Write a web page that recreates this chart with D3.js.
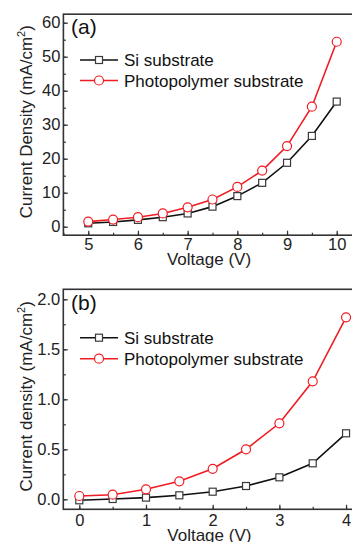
<!DOCTYPE html>
<html><head><meta charset="utf-8">
<script src="https://cdn.jsdelivr.net/npm/d3@7"></script>
<style>
html,body{margin:0;padding:0;background:#fff;overflow:hidden;}
svg{display:block;font-family:Arial,"Liberation Sans",Helvetica,sans-serif;}
</style></head>
<body>
<svg id="chart" width="352" height="542"></svg>
<script>
// ---- data ----
const voltageA = [5, 5.5, 6, 6.5, 7, 7.5, 8, 8.5, 9, 9.5, 10];
const siA      = [1.0, 1.4, 2.0, 2.8, 3.9, 5.9, 9.0, 12.9, 18.8, 26.7, 36.8];
const photoA   = [1.5, 2.1, 2.8, 3.9, 5.7, 8.0, 11.7, 16.5, 23.7, 35.3, 54.4];
const xTicksA  = [5, 6, 7, 8, 9, 10];
const yTicksA  = [0, 10, 20, 30, 40, 50, 60];

const voltageB = [0, 0.5, 1, 1.5, 2, 2.5, 3, 3.5, 4];
const siB      = [-0.01, 0.003, 0.017, 0.04, 0.076, 0.133, 0.22, 0.36, 0.66];
const photoB   = [0.033, 0.046, 0.10, 0.18, 0.305, 0.50, 0.76, 1.18, 1.82];
const xTicksB  = [0, 1, 2, 3, 4];
const yTicksB  = [0, 0.5, 1.0, 1.5, 2.0];

const seriesNames = ["Si substrate", "Photopolymer substrate"];

const svg = d3.select("#chart");
const FRAME = "#333";
const BLACK = "#111";
const RED = "#f01c24";

function panel(cfg) {
  const g = svg.append("g");
  const x = d3.scaleLinear().domain(cfg.xDomain).range([cfg.left, cfg.right]);
  const y = d3.scaleLinear().domain(cfg.yDomain).range([cfg.bottom, cfg.top]);

  const xMinor = d3.range(Math.ceil(cfg.xDomain[0] / cfg.xMinorStep) * cfg.xMinorStep, cfg.xDomain[1] + 1e-9, cfg.xMinorStep);
  const yMinor = d3.range(Math.ceil(cfg.yDomain[0] / cfg.yMinorStep) * cfg.yMinorStep, cfg.yDomain[1] + 1e-9, cfg.yMinorStep);

  const styleTicks = a => {
    a.select(".domain").remove();
    a.selectAll("line").attr("stroke", FRAME).attr("stroke-width", 1.2);
    a.selectAll("text").attr("font-size", 16.5).attr("fill", "#222")
      .attr("font-family", "Arial, 'Liberation Sans', sans-serif");
  };

  // minor ticks (inward)
  g.append("g").attr("transform", `translate(0,${cfg.bottom})`)
    .call(d3.axisBottom(x).tickValues(xMinor).tickSize(-2.5).tickFormat("")).call(styleTicks);
  g.append("g").attr("transform", `translate(${cfg.left},0)`)
    .call(d3.axisLeft(y).tickValues(yMinor).tickSize(-2.5).tickFormat("")).call(styleTicks);

  // major ticks (inward) with labels
  g.append("g").attr("transform", `translate(0,${cfg.bottom})`)
    .call(d3.axisBottom(x).tickValues(cfg.xTicks).tickSize(-4.5).tickPadding(cfg.xPad).tickFormat(d3.format("d")))
    .call(styleTicks);
  g.append("g").attr("transform", `translate(${cfg.left},0)`)
    .call(d3.axisLeft(y).tickValues(cfg.yTicks).tickSize(-4.5).tickPadding(3).tickFormat(cfg.yFormat))
    .call(styleTicks);

  // frame
  g.append("rect").attr("x", cfg.left).attr("y", cfg.top)
    .attr("width", cfg.right - cfg.left).attr("height", cfg.bottom - cfg.top)
    .attr("fill", "none").attr("stroke", FRAME).attr("stroke-width", 1.6);

  const line = d3.line().x(d => x(d[0])).y(d => y(d[1]));
  const si = cfg.volt.map((v, i) => [v, cfg.si[i]]);
  const ph = cfg.volt.map((v, i) => [v, cfg.photo[i]]);

  g.append("path").datum(si).attr("d", line).attr("fill", "none").attr("stroke", BLACK).attr("stroke-width", 1.6);
  g.append("path").datum(ph).attr("d", line).attr("fill", "none").attr("stroke", RED).attr("stroke-width", 1.6);

  const sq = 7;
  g.selectAll(".sq").data(si).join("rect").attr("class", "sq")
    .attr("x", d => x(d[0]) - sq / 2).attr("y", d => y(d[1]) - sq / 2)
    .attr("width", sq).attr("height", sq)
    .attr("fill", "#fff").attr("stroke", "#3a3a3a").attr("stroke-width", 1.2);
  g.selectAll(".ci").data(ph).join("circle").attr("class", "ci")
    .attr("cx", d => x(d[0])).attr("cy", d => y(d[1])).attr("r", 4.5)
    .attr("fill", "#fff").attr("stroke", RED).attr("stroke-width", 1.2);

  // panel label
  g.append("text").attr("x", 71).attr("y", cfg.labelY).attr("font-size", 21).attr("fill", "#111").text(cfg.label);

  // legend
  const leg = [
    { name: seriesNames[0], color: BLACK, marker: "sq", y: cfg.legY[0] },
    { name: seriesNames[1], color: RED, marker: "ci", y: cfg.legY[1] }
  ];
  leg.forEach(l => {
    g.append("line").attr("x1", 80).attr("x2", 118).attr("y1", l.y).attr("y2", l.y)
      .attr("stroke", l.color).attr("stroke-width", 1.6);
    if (l.marker === "sq") {
      g.append("rect").attr("x", 99 - sq / 2).attr("y", l.y - sq / 2).attr("width", sq).attr("height", sq)
        .attr("fill", "#fff").attr("stroke", "#3a3a3a").attr("stroke-width", 1.2);
    } else {
      g.append("circle").attr("cx", 99).attr("cy", l.y).attr("r", 4.5)
        .attr("fill", "#fff").attr("stroke", RED).attr("stroke-width", 1.2);
    }
    g.append("text").attr("x", 124).attr("y", l.y + 6).attr("font-size", 17).attr("fill", "#111").text(l.name);
  });

  // axis titles
  g.append("text").attr("x", (cfg.left + cfg.right) / 2 - 1).attr("y", cfg.xTitleY)
    .attr("text-anchor", "middle").attr("font-size", 17).attr("fill", "#222").text("Voltage (V)");
  const yt = g.append("text")
    .attr("transform", `translate(32,${(cfg.top + cfg.bottom) / 2 - 3}) rotate(-90)`)
    .attr("text-anchor", "middle").attr("font-size", 17).attr("fill", "#222");
  yt.append("tspan").text(cfg.yTitle + " (mA/cm");
  yt.append("tspan").attr("font-size", 11).attr("dy", -7).text("2");
  yt.append("tspan").attr("dy", 7).text(")");
}

panel({
  xDomain: [4.5, 10.4], yDomain: [-2.5, 62.5],
  left: 63.4, right: 356.6, top: 14.2, bottom: 235.2,
  xTicks: xTicksA, yTicks: yTicksA, xMinorStep: 0.5, yMinorStep: 5, xPad: 3,
  yFormat: d3.format("d"),
  volt: voltageA, si: siA, photo: photoA,
  label: "(a)", labelY: 34, legY: [60, 80.5], xTitleY: 265,
  yTitle: "Current Density"
});

panel({
  xDomain: [-0.24, 4.17], yDomain: [-0.1, 2.1],
  left: 63.3, right: 357.4, top: 289.3, bottom: 509.3,
  xTicks: xTicksB, yTicks: yTicksB, xMinorStep: 0.5, yMinorStep: 0.25, xPad: 5,
  yFormat: d3.format(".1f"),
  volt: voltageB, si: siB, photo: photoB,
  label: "(b)", labelY: 310, legY: [337.7, 358.7], xTitleY: 541,
  yTitle: "Current density"
});
</script>
</body></html>
